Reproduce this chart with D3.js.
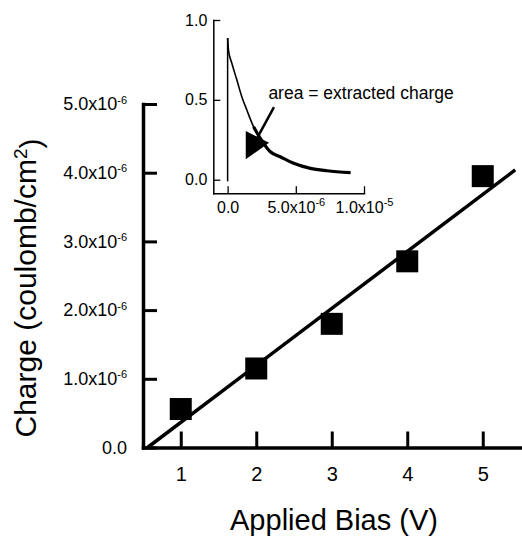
<!DOCTYPE html>
<html>
<head>
<meta charset="utf-8">
<script src="https://cdn.jsdelivr.net/npm/d3@7"></script>
<style>
  body { margin: 0; background: #fff; }
  text { font-family: "Liberation Sans", Arial, Helvetica, sans-serif; fill: #000; }
</style>
</head>
<body>
<script>
// donnees principales : charge extraite vs tension appliquee
var bias = [1, 2, 3, 4, 5];
var charge = [0.56e-6, 1.15e-6, 1.80e-6, 2.71e-6, 3.95e-6];

// droite d'ajustement
var fitX = [0.56, 5.43];
var fitY = [0, 4.04e-6];

var xMajor = [1, 2, 3, 4, 5];
var xMinor = [1.5, 2.5, 3.5, 4.5, 5.5];
var yMajor = [0, 1e-6, 2e-6, 3e-6, 4e-6, 5e-6];
var yMinor = [0.5e-6, 1.5e-6, 2.5e-6, 3.5e-6, 4.5e-6];
var yLabels = ["0.0", "1.0x10|-6", "2.0x10|-6", "3.0x10|-6", "4.0x10|-6", "5.0x10|-6"];

// encart : courant transitoire
var tTime = [0, 0.06e-6, 0.31e-6, 0.68e-6, 1.04e-6, 1.41e-6, 1.90e-6, 2.5e-6, 3.13e-6, 3.86e-6, 4.84e-6, 6.07e-6, 7.29e-6, 9.01e-6];
var tCurr = [0.887, 0.812, 0.729, 0.624, 0.52, 0.436, 0.332, 0.245, 0.175, 0.144, 0.103, 0.071, 0.056, 0.044];
var insetXMajor = [0, 5e-6, 1e-5];
var insetXMinor = [2.5e-6, 7.5e-6];
var insetXLabels = ["0.0", "5.0x10|-6", "1.0x10|-5"];
var insetYMajor = [0, 0.5, 1];
var insetYMinor = [0.25, 0.75];
var insetYLabels = ["0.0", "0.5", "1.0"];

var larg = 522, haut = 537;

var svg = d3.select("body").append("svg")
  .attr("width", larg)
  .attr("height", haut);

var x = d3.scaleLinear().domain([0.5, 5.5]).range([143, 520.5]);
var y = d3.scaleLinear().domain([0, 5e-6]).range([447.5, 104]);

// ecrit "mantisse x10" + exposant en tspan
function sciLabel(sel, labels, ticks, supSize) {
  sel.selectAll(".tick text").each(function(d) {
    var lab = labels[ticks.indexOf(d)];
    var t = d3.select(this).text("");
    var parts = lab.split("|");
    t.append("tspan").text(parts[0]);
    if (parts.length > 1) {
      t.append("tspan").attr("dy", "-0.6em").style("font-size", supSize + "px").text(parts[1]);
    }
  });
}

// axe X
var gx = svg.append("g").attr("transform", "translate(0," + y(0) + ")");
gx.call(d3.axisBottom(x).tickValues(xMinor).tickSizeInner(-9).tickSizeOuter(0).tickFormat(""));
gx.call(d3.axisBottom(x).tickValues(xMajor).tickSizeInner(-16).tickSizeOuter(0).tickPadding(19).tickFormat(d3.format("d")));
gx.selectAll("text").style("font-size", "20px");

// axe Y
var gy = svg.append("g").attr("transform", "translate(" + x(0.5) + ",0)");
gy.call(d3.axisLeft(y).tickValues(yMinor).tickSizeInner(-7).tickSizeOuter(0).tickFormat(""));
gy.call(d3.axisLeft(y).tickValues(yMajor).tickSizeInner(-14).tickSizeOuter(0).tickPadding(16));
gy.selectAll("text").style("font-size", "18px");
sciLabel(gy, yLabels, yMajor, 11);

svg.selectAll(".domain").attr("stroke", "#000").attr("stroke-width", 3.5).attr("stroke-linecap", "square");
svg.selectAll(".tick line").attr("stroke", "#000").attr("stroke-width", 3);

// droite
var line = d3.line().x(function(d) { return x(d[0]); }).y(function(d) { return y(d[1]); });
svg.append("path")
  .datum(d3.zip(fitX, fitY))
  .attr("d", line)
  .attr("fill", "none")
  .attr("stroke", "#000")
  .attr("stroke-width", 3.5);

// carres
svg.selectAll("rect.pt")
  .data(d3.zip(bias, charge))
  .enter()
  .append("rect")
  .attr("class", "pt")
  .attr("x", function(d) { return x(d[0]) - 11; })
  .attr("y", function(d) { return y(d[1]) - 11; })
  .attr("width", 22)
  .attr("height", 22)
  .attr("fill", "#000");

// titres
svg.append("text")
  .attr("x", 334).attr("y", 530)
  .attr("text-anchor", "middle")
  .style("font-size", "29px")
  .text("Applied Bias (V)");

var yt = svg.append("text")
  .attr("transform", "translate(36,288) rotate(-90)")
  .attr("text-anchor", "middle")
  .style("font-size", "30px");
yt.append("tspan").text("Charge (coulomb/cm");
yt.append("tspan").attr("dy", "-0.45em").style("font-size", "19px").text("2");
yt.append("tspan").attr("dy", "0.45em").text(")");

// ---- encart ----
var xi = d3.scaleLinear().domain([-1.05e-6, 1.0e-5]).range([213.3, 364]);
var yi = d3.scaleLinear().domain([-0.085, 1]).range([193.3, 20]);

var ix = svg.append("g").attr("class", "inset").attr("transform", "translate(0," + yi(-0.085) + ")");
ix.call(d3.axisBottom(xi).tickValues(insetXMinor).tickSizeInner(-6).tickSizeOuter(0).tickFormat(""));
ix.call(d3.axisBottom(xi).tickValues(insetXMajor).tickSizeInner(-7).tickSizeOuter(0).tickPadding(8));
ix.selectAll("text").style("font-size", "16px");
sciLabel(ix, insetXLabels, insetXMajor, 11);

var iy = svg.append("g").attr("class", "inset").attr("transform", "translate(" + xi(-1.05e-6) + ",0)");
iy.call(d3.axisLeft(yi).tickValues(insetYMinor).tickSizeInner(-6).tickSizeOuter(0).tickFormat(""));
iy.call(d3.axisLeft(yi).tickValues(insetYMajor).tickSizeInner(-7).tickSizeOuter(0).tickPadding(6));
iy.selectAll("text").style("font-size", "16px");
sciLabel(iy, insetYLabels, insetYMajor, 11);

svg.selectAll(".inset .domain").attr("stroke-width", 1.5).attr("stroke-linecap", "square");
svg.selectAll(".inset .tick line").attr("stroke-width", 1.3);

var lineI = d3.line().x(function(d) { return xi(d[0]); }).y(function(d) { return yi(d[1]); });
var pts = d3.zip(tTime, tCurr);

// front vertical a t = 0
svg.append("path")
  .datum([[0, -0.01], [0, tCurr[0]]])
  .attr("d", lineI)
  .attr("fill", "none").attr("stroke", "#000").attr("stroke-width", 1.5);

// decroissance
svg.append("path")
  .datum(pts)
  .attr("d", lineI.curve(d3.curveMonotoneX))
  .attr("fill", "none").attr("stroke", "#000").attr("stroke-width", 1.6);
svg.append("path")
  .datum(pts.filter(function(d) { return d[0] >= 1.9e-6; }))
  .attr("d", lineI.curve(d3.curveMonotoneX))
  .attr("fill", "none").attr("stroke", "#000").attr("stroke-width", 3.2);

// annotation
svg.append("text")
  .attr("x", xi(2.99e-6)).attr("y", yi(0.503))
  .style("font-size", "17.5px")
  .text("area = extracted charge");

svg.append("path")
  .datum([[3.40e-6, 0.455], [2.16e-6, 0.261]])
  .attr("d", lineI.curve(d3.curveLinear))
  .attr("fill", "none").attr("stroke", "#000").attr("stroke-width", 2.5);

svg.append("path")
  .datum([[1.33e-6, 0.305], [1.33e-6, 0.128], [3.04e-6, 0.232]])
  .attr("d", function(d) { return lineI.curve(d3.curveLinear)(d) + "Z"; })
  .attr("fill", "#000");
</script>
</body>
</html>
